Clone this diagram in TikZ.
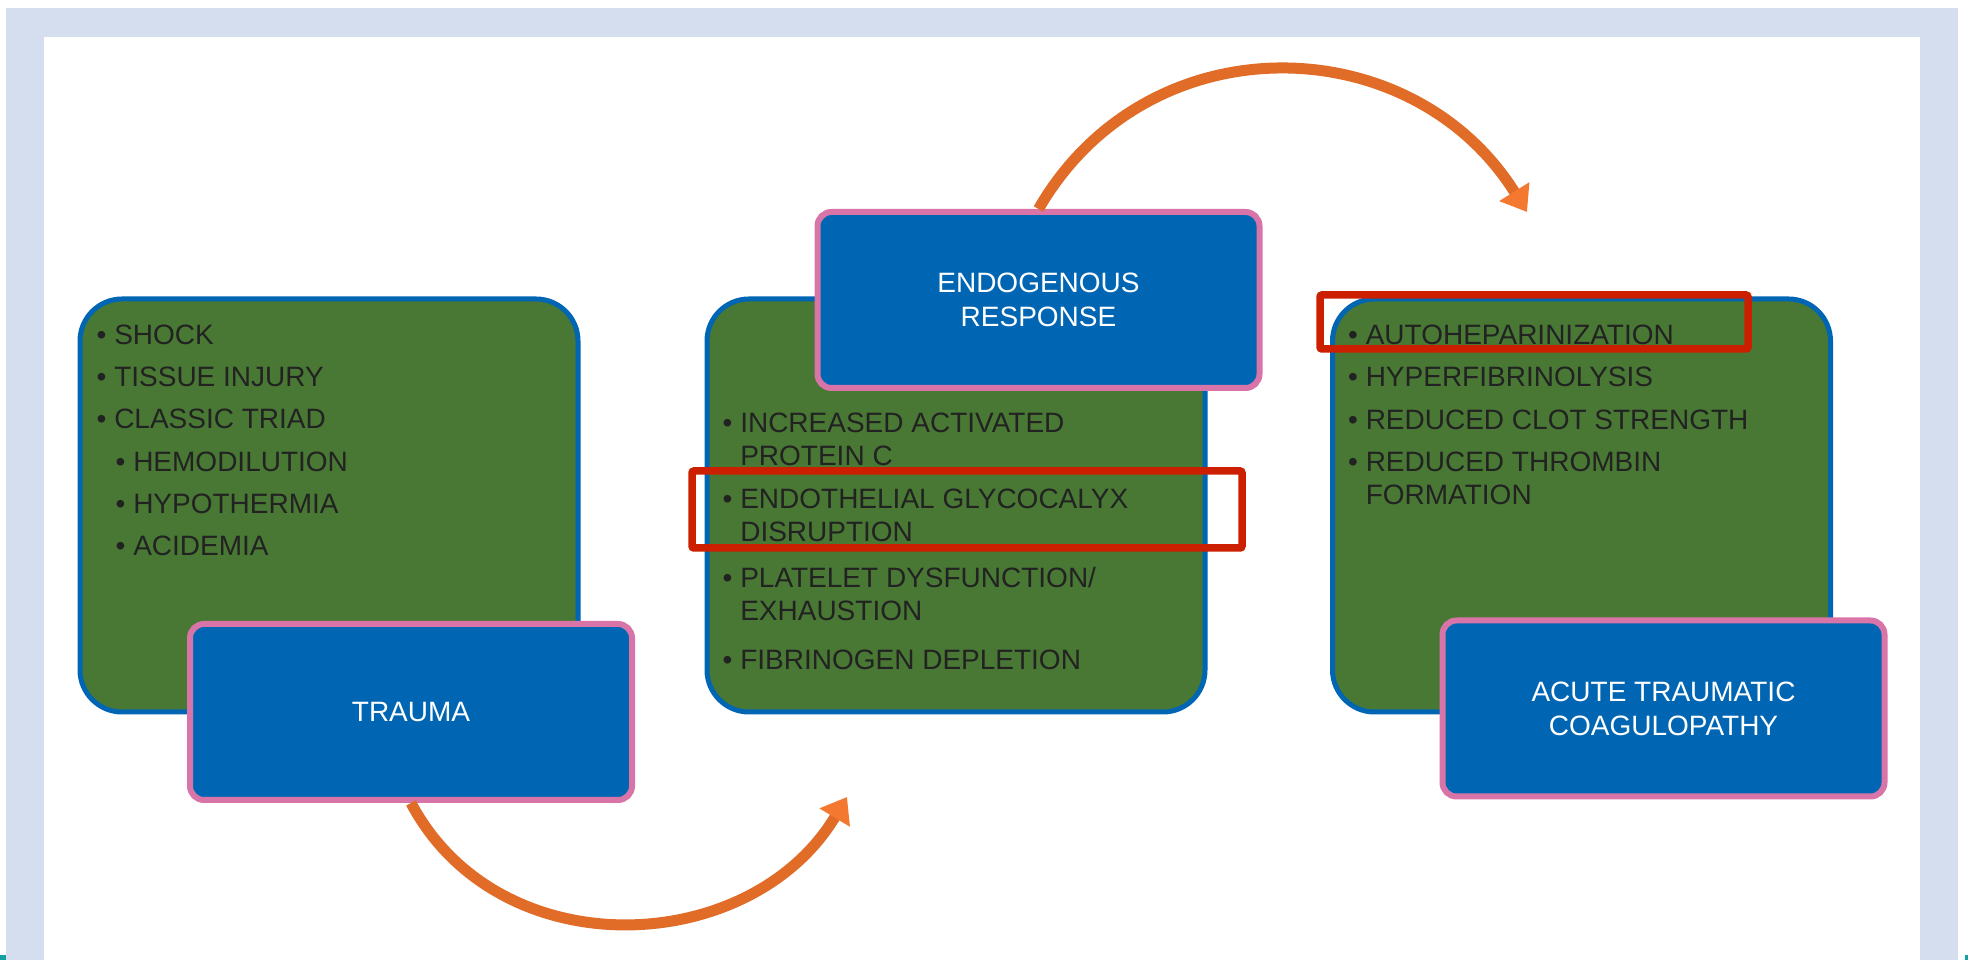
\documentclass[tikz,border=0pt]{standalone}
\usepackage{fontspec}
\setmainfont{Liberation Sans}
\usetikzlibrary{arrows.meta}
\usetikzlibrary{calc}

\definecolor{framecol}{HTML}{D5DEEF}
\definecolor{panelgreen}{HTML}{487833}
\definecolor{panelblue}{HTML}{0066B3}
\definecolor{edgepink}{HTML}{D974A9}
\definecolor{flowline}{HTML}{E06C28}
\definecolor{flowtip}{HTML}{F47830}
\definecolor{markred}{HTML}{CC1F00}
\definecolor{itemtext}{HTML}{222222}
\definecolor{cornermark}{HTML}{12A0A0}

\begin{document}
\begin{tikzpicture}[
        x=1pt, y=1pt,
        panel/.style={draw=panelblue, line width=5pt, fill=panelgreen, rounded corners=42pt,
            minimum width=498pt, minimum height=413pt, inner sep=0pt},
        stage/.style={draw=edgepink, line width=6pt, fill=panelblue, rounded corners=14pt,
            minimum width=442pt, minimum height=176pt, align=center, text=white,
            font=\fontsize{28}{34}\selectfont},
        items/.style={anchor=base west, align=left, inner sep=0pt, text=itemtext,
            font=\fontsize{28}{33}\selectfont},
        flow/.style={line width=11pt, draw=flowline,
            -{Triangle[length=24pt, width=34pt, color=flowtip]}},
        marker/.style={draw=markred, line width=7.5pt, rounded corners=2pt}
    ]
        \useasboundingbox (0,0) rectangle (1968,960);

        % --- Marco ---
        \fill[framecol] (6,-5) rectangle (1958,952);
        \fill[white] (44,-5) rectangle (1920,923);
        \fill[cornermark] (0,0) rectangle (6,5);
        \fill[cornermark] (1965,0) rectangle (1968,5);

        % --- Paneles verdes ---
        \node[panel] (green1) at (329,454.5) {};
        \node[panel] (green2) at (956,454.5) {};
        \node[panel] (green3) at (1581.5,454.5) {};

        % Listas (ancladas en la linea base de la ultima linea)
        \node[items] (list1) at ($(green1.north west)+(19,-259)$) {%
            \textbullet\ SHOCK\\[9.2pt]
            \textbullet\ TISSUE INJURY\\[9.2pt]
            \textbullet\ CLASSIC TRIAD\\[9.2pt]
            \hspace*{19pt}\textbullet\ HEMODILUTION\\[9.2pt]
            \hspace*{19pt}\textbullet\ HYPOTHERMIA\\[9.2pt]
            \hspace*{19pt}\textbullet\ ACIDEMIA};
        \node[items] (list2) at ($(green2.north west)+(18,-373.5)$) {%
            \textbullet\ INCREASED ACTIVATED\\
            \phantom{\textbullet\ }PROTEIN C\\[10pt]
            \textbullet\ ENDOTHELIAL GLYCOCALYX\\
            \phantom{\textbullet\ }DISRUPTION\\[13pt]
            \textbullet\ PLATELET DYSFUNCTION/\\
            \phantom{\textbullet\ }EXHAUSTION\\[16pt]
            \textbullet\ FIBRINOGEN DEPLETION};
        \node[items] (list3) at ($(green3.north west)+(18,-208.5)$) {%
            \textbullet\ AUTOHEPARINIZATION\\[9.5pt]
            \textbullet\ HYPERFIBRINOLYSIS\\[9.5pt]
            \textbullet\ REDUCED CLOT STRENGTH\\[9.5pt]
            \textbullet\ REDUCED THROMBIN\\
            \phantom{\textbullet\ }FORMATION};

        % --- Etapas ---
        \node[stage] (trauma) at ($(green1)+(82,-206.5)$) {TRAUMA};
        \node[stage] (endo) at ($(green2)+(82.5,205.5)$) {ENDOGENOUS\\RESPONSE};
        \node[stage] (act) at ($(green3)+(82,-203)$) {ACUTE TRAUMATIC\\COAGULOPATHY};

        % --- Flechas ---
        \coordinate (tipA) at (847,163);
        \coordinate (tipB) at (1527,748);
        \draw[flow] (trauma.south) to[out=-62, in=-121, looseness=1.1] (tipA);
        \draw[flow] (endo.north) to[out=60, in=122, looseness=1.14] (tipB);

        % --- Resaltados ---
        \draw[marker] (692,489) rectangle (1242,412);
        \draw[marker] (1320,665) rectangle (1748,611);

    \end{tikzpicture}
\end{document}
